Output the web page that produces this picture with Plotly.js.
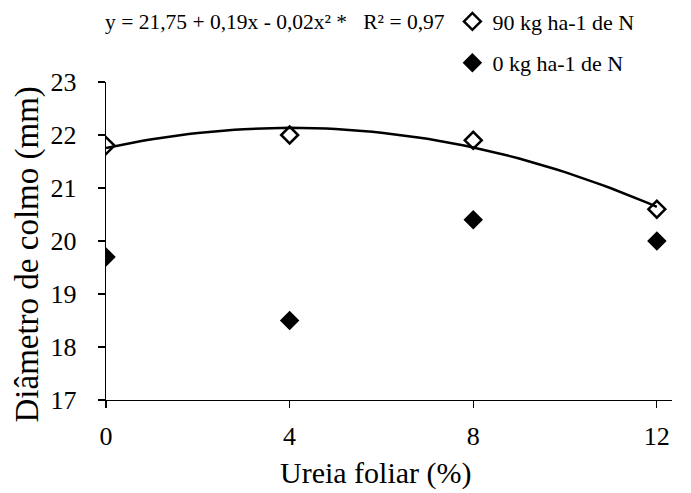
<!DOCTYPE html>
<html><head><meta charset="utf-8">
<script src="https://cdn.plot.ly/plotly-3.0.1.min.js"></script>
<style>body{margin:0;background:#fff}#c{width:691px;height:493px}</style>
</head><body><div id="c"></div>
<script>
var ureia = [0, 4, 8, 12];
var n90 = [21.8, 22.0, 21.9, 20.6];
var n0 = [19.7, 18.5, 20.4, 20.0];
var xTicks = [0, 4, 8, 12];
var yTicks = [17, 18, 19, 20, 21, 22, 23];
var nameN90 = '90 kg ha-1 de N';
var nameN0 = '0 kg ha-1 de N';
var equation = 'y = 21,75 + 0,19x - 0,02x\u00b2 *\u00a0\u00a0\u00a0R\u00b2 = 0,97';
var xTitle = 'Ureia foliar (%)';
var yTitle = 'Diâmetro de colmo (mm)';

// least-squares quadratic fit of the 90 kg series (trendline)
function quadFit(xs, ys) {
  var S = [0,0,0,0,0], T = [0,0,0];
  for (var i = 0; i < xs.length; i++) {
    var p = 1;
    for (var k = 0; k < 5; k++) { S[k] += p; if (k < 3) T[k] += p * ys[i]; p *= xs[i]; }
  }
  var A = [[S[0],S[1],S[2],T[0]],[S[1],S[2],S[3],T[1]],[S[2],S[3],S[4],T[2]]];
  for (var c = 0; c < 3; c++) {
    for (var r = c + 1; r < 3; r++) {
      var f = A[r][c] / A[c][c];
      for (var j = c; j < 4; j++) A[r][j] -= f * A[c][j];
    }
  }
  var b = [0,0,0];
  for (var r2 = 2; r2 >= 0; r2--) {
    var s = A[r2][3];
    for (var j2 = r2 + 1; j2 < 3; j2++) s -= A[r2][j2] * b[j2];
    b[r2] = s / A[r2][r2];
  }
  return b;
}
var coef = quadFit(ureia, n90);
var fx = [], fy = [];
for (var i = 0; i <= 60; i++) {
  var x = 12 * i / 60;
  fx.push(x); fy.push(coef[0] + coef[1] * x + coef[2] * x * x);
}

var FAM = 'Liberation Serif';
function F(sz) { return {family: FAM, color: '#000', size: sz}; }

var traces = [
  {x: fx, y: fy, mode: 'lines', line: {color: '#000', width: 2.5}, showlegend: false, hoverinfo: 'skip'},
  {x: ureia, y: n90, mode: 'markers', name: nameN90, legend: 'legend',
   marker: {symbol: 'diamond-open', size: 13, color: '#000', line: {width: 2.5, color: '#000'}}},
  {x: ureia, y: n0, mode: 'markers', name: nameN0, legend: 'legend2',
   marker: {symbol: 'diamond', size: 15, color: '#000'}}
];

var layout = {
  width: 691, height: 493,
  margin: {l: 106, r: 19, t: 82, b: 93, autoexpand: false},
  paper_bgcolor: '#fff', plot_bgcolor: '#fff',
  font: F(22),
  xaxis: {
    range: [0, 12.33], tickvals: xTicks, ticktext: xTicks.map(String),
    showgrid: false, zeroline: false, showline: true, linecolor: '#000', linewidth: 1.3,
    ticks: 'outside', ticklen: 7, tickcolor: '#000', tickwidth: 1.3, tickfont: F(26),
    ticklabelstandoff: 5, automargin: false
  },
  yaxis: {
    range: [17, 23], tickvals: yTicks, ticktext: yTicks.map(String),
    showgrid: false, zeroline: false, showline: true, linecolor: '#000', linewidth: 1.3,
    ticks: 'outside', ticklen: 7, tickcolor: '#000', tickwidth: 1.3, tickfont: F(26),
    ticklabelstandoff: 16, automargin: false
  },
  legend: {x: 0.612, xanchor: 'left', y: 1.19, yanchor: 'middle', font: F(22),
           bgcolor: 'rgba(0,0,0,0)', borderwidth: 0, itemwidth: 30},
  legend2: {x: 0.612, xanchor: 'left', y: 1.06, yanchor: 'middle', font: F(22),
            bgcolor: 'rgba(0,0,0,0)', borderwidth: 0, itemwidth: 30},
  annotations: [
    {text: equation, xref: 'paper', yref: 'paper', x: -0.006, y: 1.189,
     xanchor: 'left', yanchor: 'middle', showarrow: false, font: F(21.5)},
    {text: xTitle, xref: 'paper', yref: 'paper', x: 0.477, y: -0.2296,
     xanchor: 'center', yanchor: 'middle', showarrow: false, font: F(30)},
    {text: yTitle, xref: 'paper', yref: 'paper', x: -0.1378, y: 0.4575, textangle: -90,
     xanchor: 'center', yanchor: 'middle', showarrow: false, font: F(33)}
  ]
};
Plotly.newPlot('c', traces, layout, {displayModeBar: false, staticPlot: true});
</script></body></html>
